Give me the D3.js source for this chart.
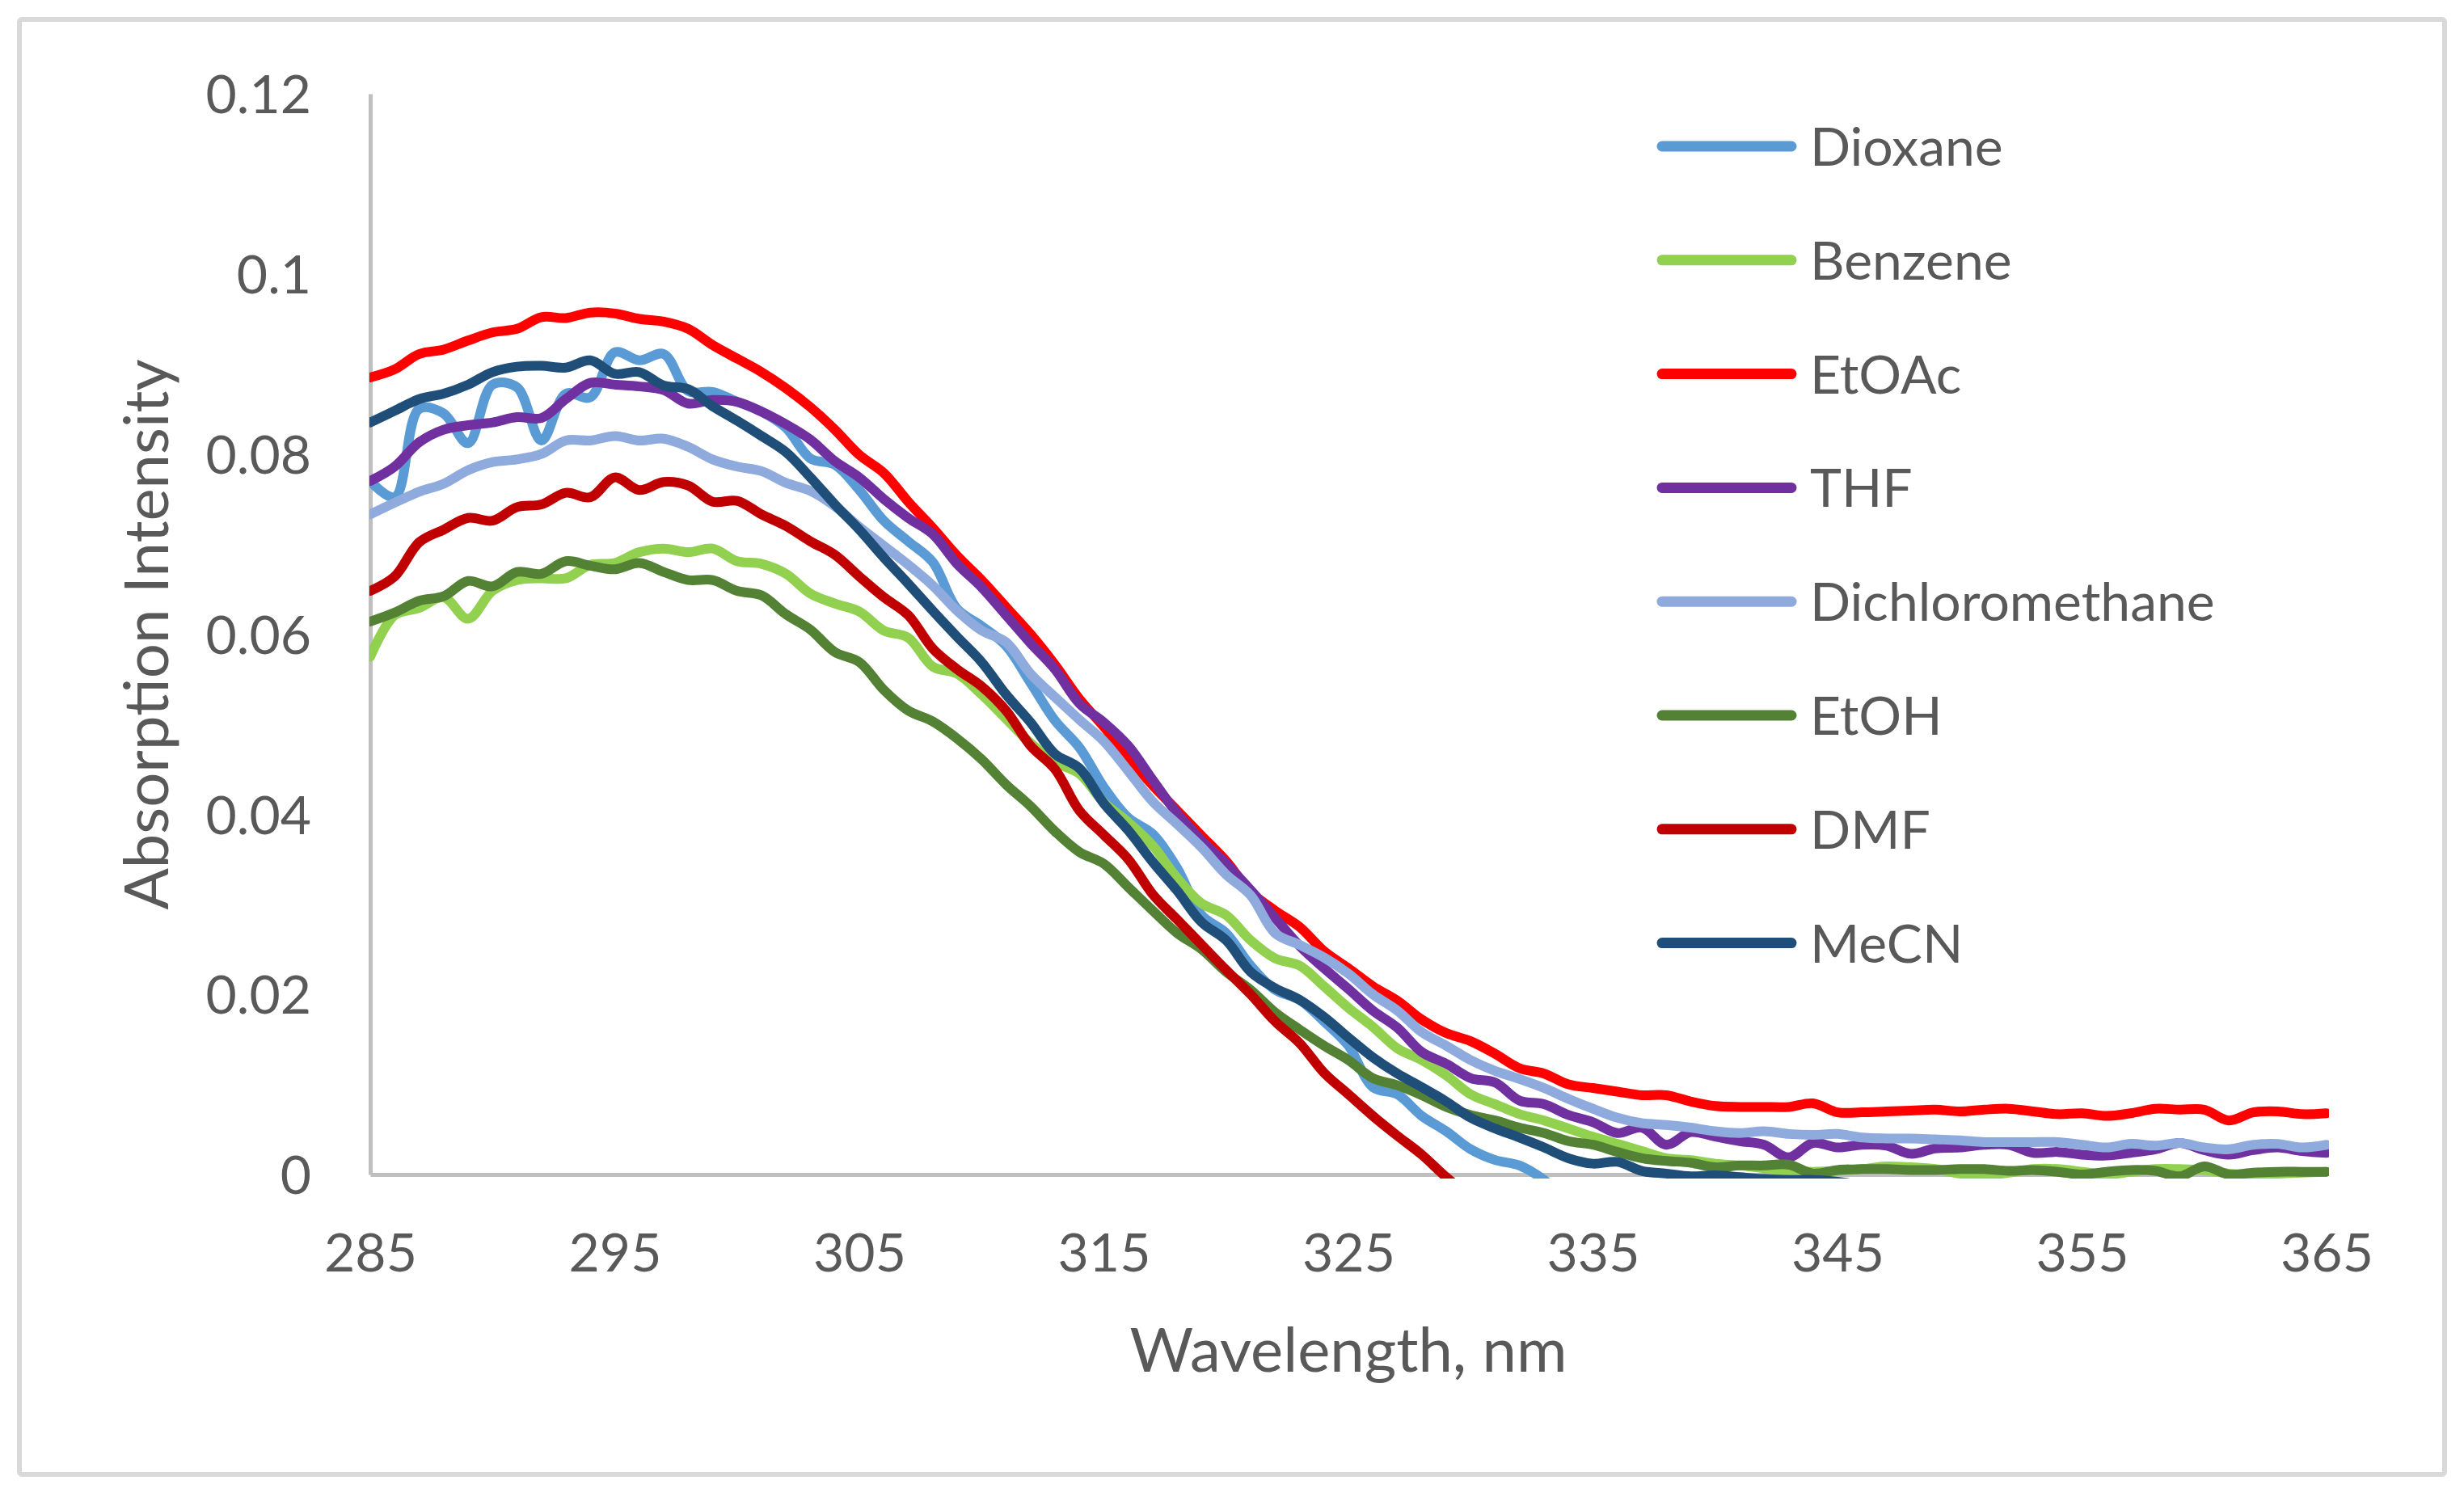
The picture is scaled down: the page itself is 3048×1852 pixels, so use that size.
<!DOCTYPE html>
<html>
<head>
<meta charset="utf-8">
<script src="https://cdn.jsdelivr.net/npm/d3@7"></script>
<style>
  body { margin: 0; background: #fff; }
  text { font-family: Lato, "Open Sans", sans-serif; fill: #595959; }
</style>
</head>
<body>
<script>
// wavelengths, nm (1 nm steps)
var startNm = 285;
var xTicks = [285, 295, 305, 315, 325, 335, 345, 355, 365];
var yTicks = [0, 0.02, 0.04, 0.06, 0.08, 0.1, 0.12];
var yTickLabels = ["0", "0.02", "0.04", "0.06", "0.08", "0.1", "0.12"];

var solvents = ["Dioxane", "Benzene", "EtOAc", "THF", "Dichloromethane", "EtOH", "DMF", "MeCN"];

var dioxane = [0.0770, 0.0752, 0.0850, 0.0845, 0.0812, 0.0877, 0.0874, 0.0815, 0.0867, 0.0863,
  0.0913, 0.0904, 0.0911, 0.0870, 0.0869, 0.0858, 0.0847, 0.0829, 0.0795, 0.0788,
  0.0760, 0.0726, 0.0703, 0.0680, 0.0628, 0.0609, 0.0587, 0.0546, 0.0504, 0.0474,
  0.0430, 0.0396, 0.0378, 0.0340, 0.0288, 0.0268, 0.0232, 0.0205, 0.0194, 0.0170,
  0.0143, 0.0097, 0.0089, 0.0065, 0.0048, 0.0028, 0.0016, 0.0010, -0.0006, -0.0030];

var benzene = [0.0575, 0.0621, 0.0629, 0.0641, 0.0617, 0.0648, 0.0660, 0.0662, 0.0662, 0.0677,
  0.0679, 0.0691, 0.0695, 0.0691, 0.0695, 0.0681, 0.0678, 0.0667, 0.0645, 0.0634,
  0.0625, 0.0604, 0.0596, 0.0564, 0.0556, 0.0533, 0.0506, 0.0479, 0.0458, 0.0445,
  0.0413, 0.0391, 0.0365, 0.0329, 0.0301, 0.0288, 0.0260, 0.0240, 0.0232, 0.0209,
  0.0185, 0.0164, 0.0140, 0.0127, 0.0110, 0.0089, 0.0078, 0.0067, 0.0060, 0.0051,
  0.0042, 0.0034, 0.0026, 0.0018, 0.0016, 0.0012, 0.0010, 0.0007, 0.0004, 0.0003,
  0.0004, 0.0006, 0.0009, 0.0008, 0.0006, 0.0001, -0.0001, 0.0002, 0.0006, 0.0006,
  0.0003, 0.0000, 0.0003, 0.0006, 0.0006, 0.0005, 0.0001, 0.0000, 0.0001, 0.0002, 0.0003];

var etoac = [0.0885, 0.0894, 0.0911, 0.0916, 0.0926, 0.0935, 0.0939, 0.0952, 0.0951, 0.0957,
  0.0956, 0.0950, 0.0947, 0.0939, 0.0921, 0.0906, 0.0891, 0.0873, 0.0852, 0.0827,
  0.0799, 0.0779, 0.0747, 0.0718, 0.0687, 0.0660, 0.0630, 0.0600, 0.0566, 0.0528,
  0.0497, 0.0463, 0.0432, 0.0404, 0.0376, 0.0348, 0.0314, 0.0293, 0.0275, 0.0248,
  0.0229, 0.0209, 0.0193, 0.0172, 0.0157, 0.0148, 0.0134, 0.0118, 0.0112, 0.0100,
  0.0096, 0.0092, 0.0088, 0.0088, 0.0081, 0.0076, 0.0075, 0.0075, 0.0075, 0.0079,
  0.0069, 0.0069, 0.0070, 0.0071, 0.0072, 0.0070, 0.0072, 0.0073, 0.0070, 0.0067,
  0.0068, 0.0065, 0.0068, 0.0073, 0.0072, 0.0072, 0.0060, 0.0069, 0.0070, 0.0067, 0.0068];

var thf = [0.0770, 0.0786, 0.0813, 0.0827, 0.0832, 0.0835, 0.0841, 0.0840, 0.0861, 0.0879,
  0.0877, 0.0875, 0.0871, 0.0856, 0.0860, 0.0858, 0.0847, 0.0833, 0.0816, 0.0792,
  0.0774, 0.0750, 0.0729, 0.0711, 0.0678, 0.0652, 0.0621, 0.0590, 0.0561, 0.0523,
  0.0502, 0.0476, 0.0438, 0.0401, 0.0371, 0.0345, 0.0316, 0.0285, 0.0254, 0.0229,
  0.0206, 0.0182, 0.0163, 0.0136, 0.0123, 0.0107, 0.0102, 0.0082, 0.0078, 0.0066,
  0.0058, 0.0046, 0.0052, 0.0033, 0.0047, 0.0042, 0.0037, 0.0033, 0.0019, 0.0035,
  0.0030, 0.0033, 0.0032, 0.0023, 0.0029, 0.0030, 0.0033, 0.0033, 0.0024, 0.0025,
  0.0022, 0.0021, 0.0024, 0.0028, 0.0035, 0.0027, 0.0022, 0.0027, 0.0030, 0.0026, 0.0024];

var dichloromethane = [0.0733, 0.0746, 0.0758, 0.0767, 0.0782, 0.0791, 0.0794, 0.0800, 0.0815, 0.0815,
  0.0820, 0.0815, 0.0817, 0.0808, 0.0794, 0.0786, 0.0781, 0.0768, 0.0759, 0.0742,
  0.0719, 0.0698, 0.0677, 0.0654, 0.0626, 0.0604, 0.0591, 0.0556, 0.0530, 0.0505,
  0.0481, 0.0448, 0.0414, 0.0389, 0.0363, 0.0333, 0.0310, 0.0268, 0.0255, 0.0241,
  0.0223, 0.0200, 0.0182, 0.0158, 0.0143, 0.0127, 0.0115, 0.0106, 0.0096, 0.0084,
  0.0073, 0.0063, 0.0057, 0.0055, 0.0052, 0.0048, 0.0046, 0.0048, 0.0045, 0.0044,
  0.0045, 0.0041, 0.0040, 0.0040, 0.0039, 0.0038, 0.0036, 0.0036, 0.0036, 0.0036,
  0.0033, 0.0030, 0.0034, 0.0032, 0.0035, 0.0030, 0.0028, 0.0033, 0.0034, 0.0030, 0.0033];

var etoh = [0.0614, 0.0624, 0.0637, 0.0642, 0.0659, 0.0653, 0.0669, 0.0667, 0.0681, 0.0676,
  0.0672, 0.0679, 0.0669, 0.0660, 0.0660, 0.0648, 0.0643, 0.0622, 0.0605, 0.0580,
  0.0569, 0.0538, 0.0515, 0.0503, 0.0484, 0.0461, 0.0433, 0.0409, 0.0381, 0.0358,
  0.0345, 0.0319, 0.0293, 0.0268, 0.0250, 0.0225, 0.0205, 0.0180, 0.0161, 0.0143,
  0.0127, 0.0107, 0.0099, 0.0088, 0.0075, 0.0066, 0.0060, 0.0052, 0.0046, 0.0037,
  0.0033, 0.0025, 0.0018, 0.0015, 0.0013, 0.0008, 0.0010, 0.0010, 0.0011, 0.0001,
  0.0005, 0.0006, 0.0006, 0.0005, 0.0005, 0.0006, 0.0006, 0.0004, 0.0005, 0.0003,
  0.0000, 0.0003, 0.0005, 0.0004, -0.0002, 0.0009, 0.0000, 0.0002, 0.0003, 0.0003, 0.0003];

var dmf = [0.0648, 0.0664, 0.0702, 0.0716, 0.0729, 0.0726, 0.0741, 0.0744, 0.0757, 0.0752,
  0.0774, 0.0760, 0.0769, 0.0765, 0.0747, 0.0748, 0.0733, 0.0720, 0.0703, 0.0688,
  0.0664, 0.0641, 0.0621, 0.0584, 0.0561, 0.0542, 0.0515, 0.0476, 0.0450, 0.0404,
  0.0377, 0.0350, 0.0311, 0.0283, 0.0255, 0.0227, 0.0200, 0.0170, 0.0146, 0.0113,
  0.0089, 0.0065, 0.0043, 0.0022, -0.0003, -0.0025, -0.0048];

var mecn = [0.0835, 0.0848, 0.0861, 0.0867, 0.0877, 0.0891, 0.0897, 0.0898, 0.0896, 0.0904,
  0.0889, 0.0891, 0.0876, 0.0872, 0.0853, 0.0837, 0.0820, 0.0802, 0.0774, 0.0744,
  0.0716, 0.0685, 0.0656, 0.0626, 0.0597, 0.0569, 0.0533, 0.0502, 0.0467, 0.0451,
  0.0412, 0.0382, 0.0347, 0.0315, 0.0280, 0.0260, 0.0225, 0.0207, 0.0194, 0.0175,
  0.0152, 0.0130, 0.0112, 0.0097, 0.0081, 0.0063, 0.0051, 0.0041, 0.0030, 0.0018,
  0.0012, 0.0014, 0.0004, 0.0001, -0.0002, -0.0001, -0.0003, -0.0005, -0.0006, -0.0006,
  -0.0008, -0.0012];

var values = [dioxane, benzene, etoac, thf, dichloromethane, etoh, dmf, mecn];
var colors = ["#5B9BD5", "#92D050", "#FF0000", "#7030A0", "#8FAADC", "#548235", "#C00000", "#1F4E79"];

var width = 3048, height = 1852;

var svg = d3.select("body").append("svg")
  .attr("width", width)
  .attr("height", height);

// chart area border
svg.append("rect")
  .attr("x", 24).attr("y", 24)
  .attr("width", 3000).attr("height", 1800)
  .attr("rx", 3)
  .attr("fill", "#fff")
  .attr("stroke", "#d9d9d9")
  .attr("stroke-width", 6);

var x = d3.scaleLinear().domain([285, 365]).range([458, 2878]);
var y = d3.scaleLinear().domain([0, 0.12]).range([1453, 116]);

// axes
var yAxis = svg.append("g")
  .attr("transform", "translate(458,0)")
  .call(d3.axisLeft(y).tickValues(yTicks)
    .tickFormat(function (d, i) { return yTickLabels[i]; })
    .tickSize(0).tickSizeOuter(0).tickPadding(73));

var xAxis = svg.append("g")
  .attr("transform", "translate(0,1453)")
  .call(d3.axisBottom(x).tickValues(xTicks)
    .tickFormat(d3.format("d"))
    .tickSize(0).tickSizeOuter(0));

[yAxis, xAxis].forEach(function (g) {
  g.select(".domain").attr("stroke", "#bfbfbf").attr("stroke-width", 5);
  g.selectAll("text")
    .attr("fill", "#595959")
    .style("font-family", "Lato, 'Open Sans', sans-serif")
    .style("font-size", "66px");
});
yAxis.selectAll("text").attr("dy", "0.36em");
xAxis.selectAll("text").attr("y", 120).attr("dy", 0);

// axis titles
svg.append("text")
  .attr("x", 1668).attr("y", 1697)
  .attr("text-anchor", "middle")
  .style("font-size", "76px")
  .text("Wavelength, nm");

svg.append("text")
  .attr("transform", "translate(208,785) rotate(-90)")
  .attr("text-anchor", "middle")
  .style("font-size", "76px")
  .text("Absorption Intensity");

// series
svg.append("clipPath").attr("id", "plot")
  .append("rect")
  .attr("x", 457).attr("y", 90)
  .attr("width", 2881 - 457).attr("height", 1458 - 90);

var line = d3.line()
  .x(function (d, i) { return x(startNm + i); })
  .y(function (d) { return y(d); })
  .curve(d3.curveCatmullRom);

svg.append("g")
  .attr("clip-path", "url(#plot)")
  .selectAll("path")
  .data(values)
  .join("path")
  .attr("d", line)
  .attr("fill", "none")
  .attr("stroke", function (d, i) { return colors[i]; })
  .attr("stroke-width", 12)
  .attr("stroke-linejoin", "round")
  .attr("stroke-linecap", "round");

// legend
var legend = svg.append("g")
  .selectAll("g")
  .data(solvents)
  .join("g")
  .attr("transform", function (d, i) { return "translate(0," + (181 + i * 140.8) + ")"; });

legend.append("line")
  .attr("x1", 2056).attr("x2", 2216)
  .attr("stroke", function (d, i) { return colors[i]; })
  .attr("stroke-width", 13)
  .attr("stroke-linecap", "round");

legend.append("text")
  .attr("x", 2239).attr("y", 24)
  .style("font-size", "66px")
  .text(function (d) { return d; });
</script>
</body>
</html>
